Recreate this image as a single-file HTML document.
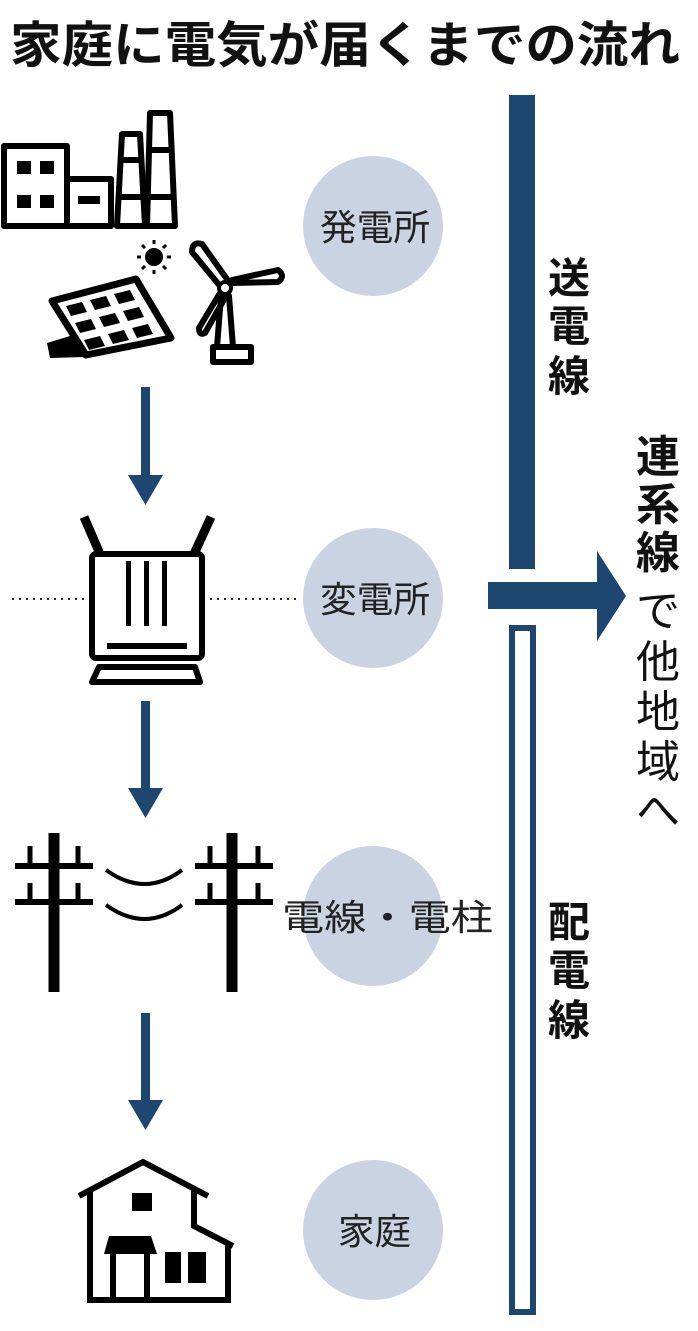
<!DOCTYPE html>
<html><head><meta charset="utf-8"><style>
html,body{margin:0;padding:0;background:#fff;}
svg{display:block;}
text{font-family:"Liberation Sans","Noto Sans CJK JP",sans-serif;}
</style></head><body>
<svg width="698" height="1331" viewBox="0 0 698 1331" xmlns="http://www.w3.org/2000/svg">
<text x="10" y="62" font-size="49" font-weight="bold" fill="#111" textLength="670" lengthAdjust="spacingAndGlyphs">家庭に電気が届くまでの流れ</text>
<g fill="#c9d3e1">
<circle cx="373" cy="226" r="70"/><circle cx="373" cy="598" r="70"/><circle cx="373" cy="916" r="70"/><circle cx="373" cy="1230" r="70"/>
</g>
<g font-size="36" fill="#222">
<text x="320" y="240" textLength="110" lengthAdjust="spacingAndGlyphs">発電所</text>
<text x="320" y="612" textLength="110" lengthAdjust="spacingAndGlyphs">変電所</text>
<text x="282" y="930" textLength="211" lengthAdjust="spacingAndGlyphs">電線・電柱</text>
<text x="338" y="1244" textLength="73" lengthAdjust="spacingAndGlyphs">家庭</text>
</g>
<rect x="509" y="95" width="26" height="474" fill="#1d4670"/>
<rect x="512" y="628" width="21" height="684" fill="none" stroke="#1d4670" stroke-width="6"/>
<polygon points="488,582 597,582 597,551 626,596 597,641 597,609 488,609" fill="#1d4670"/>
<g font-size="42" fill="#111" font-weight="bold">
<text x="548" y="293">送</text><text x="548" y="341">電</text><text x="548" y="391">線</text>
<text x="548" y="937">配</text><text x="548" y="985">電</text><text x="548" y="1035">線</text>
</g>
<g font-size="44" fill="#111">
<text x="636" y="472" font-weight="bold">連</text><text x="636" y="520" font-weight="bold">系</text><text x="636" y="568" font-weight="bold">線</text>
<text x="636" y="626">で</text><text x="636" y="677">他</text><text x="636" y="727">地</text><text x="636" y="777">域</text><text x="636" y="826">へ</text>
</g>
<line x1="12" y1="599" x2="88" y2="599" stroke="#222" stroke-width="2" stroke-dasharray="2,5"/>
<line x1="210" y1="599" x2="298" y2="599" stroke="#222" stroke-width="2" stroke-dasharray="2,5"/>
<g fill="#1d4670">
<rect x="141" y="387" width="9" height="90"/><polygon points="128,475 163,475 145.5,505"/>
<rect x="141" y="701" width="9" height="90"/><polygon points="128,788 163,788 145.5,818"/>
<rect x="141" y="1013" width="9" height="90"/><polygon points="128,1100 163,1100 145.5,1130"/>
</g>
<!-- factory -->
<g fill="none" stroke="#000" stroke-width="6" stroke-linejoin="round">
<rect x="4" y="146" width="63" height="80"/>
<rect x="67" y="179" width="44" height="47"/>
<polygon points="122,134 140,134 145,226 117,226"/>
<polygon points="150,113 170,113 175,226 147,226"/>
<line x1="120" y1="160" x2="142" y2="160"/><line x1="118" y1="197" x2="144" y2="197"/>
<line x1="149" y1="150" x2="172" y2="150"/><line x1="148" y1="197" x2="174" y2="197"/>
</g>
<g fill="#000">
<rect x="17" y="161" width="14" height="13"/><rect x="40" y="161" width="14" height="13"/>
<rect x="17" y="195" width="14" height="13"/><rect x="40" y="195" width="14" height="13"/>
<rect x="78" y="196" width="22" height="8"/>
<circle cx="154" cy="257" r="9"/>
</g>
<g stroke="#000" stroke-width="3">
<line x1="154" y1="240" x2="154" y2="244"/><line x1="154" y1="270" x2="154" y2="274"/>
<line x1="137" y1="257" x2="141" y2="257"/><line x1="167" y1="257" x2="171" y2="257"/>
<line x1="142" y1="245" x2="145" y2="248"/><line x1="163" y1="266" x2="166" y2="269"/>
<line x1="142" y1="269" x2="145" y2="266"/><line x1="163" y1="248" x2="166" y2="245"/>
</g>
<!-- solar -->
<polygon points="47,343 80,333 85,357 50,358" fill="#000"/>
<polygon points="52,301 136,279 171,338 86,355" fill="#fff" stroke="#000" stroke-width="7" stroke-linejoin="round"/>
<g fill="#000">
<polygon points="66,306 82,302 87,312 71,316"/><polygon points="90,300 106,296 111,306 95,310"/><polygon points="114,294 130,290 135,300 119,304"/>
<polygon points="75,323 91,319 96,329 80,333"/><polygon points="99,317 115,313 120,323 104,327"/><polygon points="123,311 139,307 144,317 128,321"/>
<polygon points="84,340 100,336 105,346 89,350"/><polygon points="108,334 124,330 129,340 113,344"/><polygon points="132,328 148,324 153,334 137,338"/>
</g>
<!-- windmill -->
<g fill="none" stroke="#000" stroke-width="6" stroke-linejoin="round">
<polygon points="221,296 229,296 233,347 217,347"/>
<rect x="213" y="347" width="38" height="15"/>
<path d="M220,286 L192,252 Q192,241 202,244 L229,282 Z"/>
<path d="M231,283 L278,282 Q286,276 278,270 L232,280 Z"/>
<path d="M220,293 L199,328 Q199,336 205,333 L226,296 Z"/>
</g>
<circle cx="225" cy="288" r="6" fill="#fff" stroke="#000" stroke-width="4"/>
<!-- transformer -->
<g fill="none" stroke="#000" stroke-width="6" stroke-linejoin="round">
<rect x="92" y="554" width="110" height="104" rx="4"/>
<path d="M84,517 L100,554 M211,517 L194,554" stroke-width="9"/>
<polygon points="99,667 195,667 200,682 92,682"/>
</g>
<g fill="#000">
<rect x="126" y="561" width="5" height="65"/><rect x="144" y="561" width="5" height="65"/><rect x="162" y="561" width="5" height="65"/>
<rect x="107" y="643" width="80" height="6"/>
</g>
<!-- poles -->
<g stroke="#000" fill="none">
<line x1="54" y1="833" x2="54" y2="992" stroke-width="11"/>
<line x1="232" y1="833" x2="232" y2="992" stroke-width="11"/>
<line x1="15" y1="866" x2="93" y2="866" stroke-width="6"/><line x1="15" y1="902" x2="93" y2="902" stroke-width="6"/>
<line x1="195" y1="866" x2="273" y2="866" stroke-width="6"/><line x1="195" y1="902" x2="273" y2="902" stroke-width="6"/>
<line x1="30" y1="846" x2="30" y2="866" stroke-width="5"/><line x1="78" y1="846" x2="78" y2="866" stroke-width="5"/>
<line x1="30" y1="883" x2="30" y2="902" stroke-width="5"/><line x1="78" y1="883" x2="78" y2="902" stroke-width="5"/>
<line x1="210" y1="846" x2="210" y2="866" stroke-width="5"/><line x1="258" y1="846" x2="258" y2="866" stroke-width="5"/>
<line x1="210" y1="883" x2="210" y2="902" stroke-width="5"/><line x1="258" y1="883" x2="258" y2="902" stroke-width="5"/>
<path d="M106,870 Q145,898 182,870" stroke-width="4"/>
<path d="M106,905 Q145,933 182,905" stroke-width="4"/>
</g>
<!-- house -->
<g fill="none" stroke="#000" stroke-width="6" stroke-linejoin="miter">
<path d="M79,1196 L143,1162 L208,1196"/>
<path d="M90,1190 L90,1300 L228,1300 L228,1242"/>
<path d="M194,1189 L194,1226 L233,1246"/>
<path d="M113,1300 L113,1250 L147,1250 L147,1300"/>
</g>
<g fill="#000">
<rect x="132" y="1193" width="20" height="18"/>
<polygon points="109,1236 151,1236 157,1254 104,1254"/>
<rect x="165" y="1252" width="16" height="31"/><rect x="188" y="1252" width="18" height="31"/>
</g>
</svg>
</body></html>
